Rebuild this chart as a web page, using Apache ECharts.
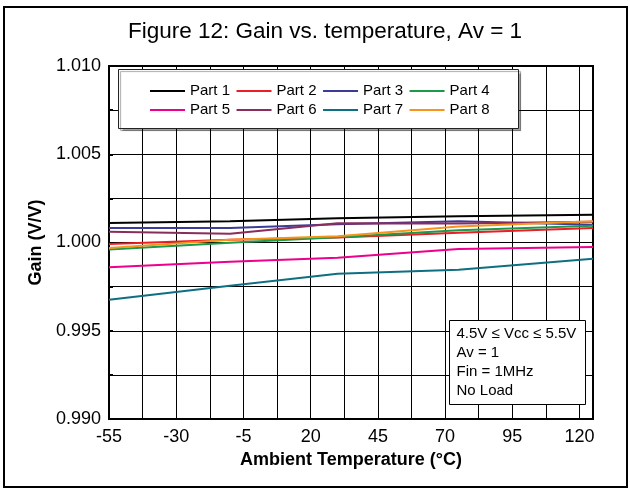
<!DOCTYPE html>
<html>
<head>
<meta charset="utf-8">
<script src="https://cdn.jsdelivr.net/npm/echarts@6/dist/echarts.min.js"></script>
<style>
  html, body { margin: 0; padding: 0; background: #fff; }
  #chart { width: 630px; height: 489px; }
</style>
</head>
<body>
<div id="chart"></div>
<script>
// ---- data ----
const temps = [-55, -10, 30, 75, 125];            // ambient temperature (°C)
const seriesNames = ['Part 1', 'Part 2', 'Part 3', 'Part 4', 'Part 5', 'Part 6', 'Part 7', 'Part 8'];
const part1 = [1.00110, 1.00120, 1.00137, 1.00149, 1.00157];
const part2 = [0.99992, 1.00016, 1.00029, 1.00055, 1.00082];
const part3 = [1.00082, 1.00082, 1.00104, 1.00120, 1.00101];
const part4 = [0.99961, 0.99999, 1.00030, 1.00070, 1.00095];
const part5 = [0.99860, 0.99891, 0.99914, 0.99963, 0.99975];
const part6 = [1.00061, 1.00050, 1.00109, 1.00107, 1.00118];
const part7 = [0.99676, 0.99755, 0.99823, 0.99846, 0.99908];
const part8 = [0.99969, 1.00016, 1.00036, 1.00090, 1.00120];
const seriesValues = [part1, part2, part3, part4, part5, part6, part7, part8];
const seriesColors = ['#000000', '#ee1c25', '#3b3b98', '#1a9a4a', '#ec008c', '#8b2d5c', '#0e6f82', '#f7941d'];
const xTickLabels = [-55, -30, -5, 20, 45, 70, 95, 120];
const yTickLabels = [0.990, 0.995, 1.000, 1.005, 1.010];

const X_OFFSET = 55; // axis runs 0..180 so ticks start at -55

const chart = echarts.init(document.getElementById('chart'), null, { renderer: 'canvas' });

const series = seriesNames.map((name, i) => ({
  name: name,
  type: 'line',
  symbol: 'none',
  data: temps.map((t, k) => [t + X_OFFSET, seriesValues[i][k]]),
  lineStyle: { color: seriesColors[i], width: 2 },
  itemStyle: { color: seriesColors[i] },
  z: 2
}));

const font = 'Liberation Sans, Arial, sans-serif';

const legendCommon = {
  left: 150,
  padding: 0,
  icon: 'rect',
  itemWidth: 35,
  itemHeight: 2,
  itemGap: 6.5,
  z: 8,
  textStyle: { fontFamily: font, fontSize: 15, color: '#000', lineHeight: 16 },
  selectedMode: false
};

chart.setOption({
  animation: false,
  backgroundColor: '#fff',
  grid: { left: 109, right: 37, top: 66, bottom: 70, show: true, borderColor: '#000', borderWidth: 2, backgroundColor: 'transparent' },
  legend: [
    Object.assign({}, legendCommon, { top: 83, data: seriesNames.slice(0, 4) }),
    Object.assign({}, legendCommon, { top: 102, data: seriesNames.slice(4, 8) })
  ],
  xAxis: {
    type: 'value',
    min: 0,
    max: 180,
    interval: 12.5,
    name: 'Ambient Temperature (°C)',
    nameLocation: 'middle',
    nameGap: 32,
    nameTextStyle: { fontFamily: font, fontSize: 18, fontWeight: 'bold', color: '#000' },
    axisLine: { lineStyle: { color: '#000', width: 2 } },
    axisTick: { show: false },
    axisLabel: {
      margin: 9,
      fontFamily: font, fontSize: 18, color: '#000',
      formatter: function (v) {
        const t = Math.round(v - X_OFFSET);
        return xTickLabels.indexOf(t) >= 0 && Math.abs(v - Math.round(v)) < 1e-6 ? String(t) : '';
      }
    },
    splitLine: { show: true, lineStyle: { color: '#000', width: 1 } }
  },
  yAxis: {
    type: 'value',
    min: 0.99,
    max: 1.01,
    interval: 0.0025,
    name: 'Gain (V/V)',
    nameLocation: 'middle',
    nameGap: 60,
    nameRotate: 90,
    nameTextStyle: { fontFamily: font, fontSize: 18, fontWeight: 'bold', color: '#000' },
    axisLine: { show: true, lineStyle: { color: '#000', width: 2 } },
    axisTick: { show: true, inside: true, length: 4, lineStyle: { color: '#000', width: 2 } },
    axisLabel: {
      margin: 8,
      fontFamily: font, fontSize: 18, color: '#000',
      formatter: function (v) {
        const match = yTickLabels.find(y => Math.abs(y - v) < 1e-7);
        return match !== undefined ? match.toFixed(3) : '';
      }
    },
    splitLine: { show: true, lineStyle: { color: '#000', width: 1 } }
  },
  graphic: [
    { type: 'rect', shape: { x: 4, y: 7, width: 623, height: 480 }, style: { fill: 'none', stroke: '#000', lineWidth: 2 }, z: 0, silent: true },
    { type: 'text', x: 325, y: 32, style: { text: 'Figure 12: Gain vs. temperature, Av = 1', font: '22.5px Liberation Sans, Arial, sans-serif', fill: '#000', textAlign: 'center', textVerticalAlign: 'middle' }, z: 10 },
    { type: 'rect', shape: { x: 118.5, y: 69.5, width: 400, height: 59 }, style: { fill: '#fff', stroke: '#222', lineWidth: 1, shadowColor: 'rgba(0,0,0,0.35)', shadowOffsetX: 2, shadowOffsetY: 2, shadowBlur: 1 }, z: 3 },
    { type: 'rect', shape: { x: 449.5, y: 320.5, width: 136, height: 84 }, style: { fill: '#fff', stroke: '#000', lineWidth: 1 }, z: 5 },
    { type: 'text', x: 456.5, y: 324.5, style: { text: '4.5V ≤ Vcc ≤ 5.5V\nAv = 1\nFin = 1MHz\nNo Load', font: '15px Liberation Sans, Arial, sans-serif', fill: '#000', lineHeight: 19, textVerticalAlign: 'top' }, z: 6 }
  ],
  series: series
});
</script>
</body>
</html>
